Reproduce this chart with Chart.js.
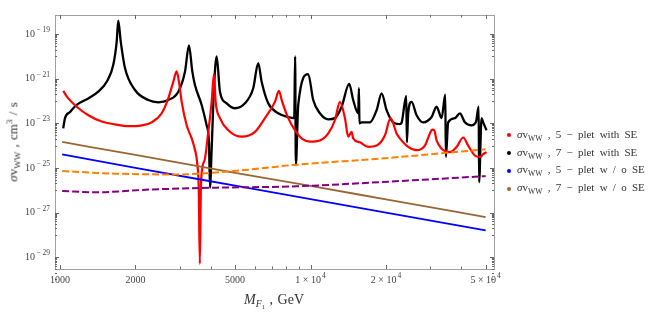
<!DOCTYPE html>
<html>
<head>
<meta charset="utf-8">
<script src="https://cdn.jsdelivr.net/npm/chart.js@4"></script>
<style>
  body { margin: 0; background: #fff; }
  #wrap { position: relative; width: 654px; height: 313px; font-family: "Liberation Serif", "Times New Roman", serif; color: #333; }
  #ytitle { position: absolute; left: 13px; top: 142px; transform: translate(-50%, -50%) rotate(-90deg); white-space: nowrap; font-size: 13px; word-spacing: 1px; }
  #xtitle { position: absolute; left: 274px; top: 300px; transform: translate(-50%, -50%); white-space: nowrap; font-size: 14px; word-spacing: 1px; }
  #legend { position: absolute; left: 507px; top: 126px; font-size: 11px; word-spacing: 2.5px; }
  .item { height: 17.7px; line-height: 17.7px; white-space: nowrap; }
  .dot { display: inline-block; width: 4px; height: 4px; border-radius: 50%; margin-right: 6px; vertical-align: middle; }
  sub { font-size: 70%; vertical-align: -3px; line-height: 0; word-spacing: 0; }
  sub sub { vertical-align: -2px; }
</style>
</head>
<body>
<div id="wrap">
  <canvas id="chart" width="654" height="313"></canvas>
  <div id="ytitle"><i>σ</i>v<sub>WW</sub> , cm<sup style="font-size:70%">3</sup> / s</div>
  <div id="xtitle"><i>M</i><sub><i>F</i><sub>1</sub></sub> , GeV</div>
  <div id="legend"></div>
</div>
<script>
// masses (GeV) and cross sections (cm^3/s)
const redMass = [1030, 1079, 1166, 1297, 1467, 1658, 1873, 2118, 2322, 2546, 2705, 2832, 2922, 2985, 3060, 3203, 3354, 3450, 3530, 3580, 3615, 3650, 3700, 3790, 3907, 4031, 4117, 4182, 4350, 4695, 5311, 6001, 6577, 7210, 7478, 7709, 8147, 8665, 9214, 9945, 10900, 11770, 12520, 13100, 13720, 14140, 14590, 14800, 15740, 16990, 18360, 19820, 20870, 22060, 22730, 24540, 26510, 28610, 29960, 30600, 31170, 31860, 33360, 36010, 38300, 40690, 42590, 45290, 47430, 48880, 50430];
const redSigma = [2.8e-22, 1.3e-22, 5.5e-23, 2.3e-23, 1.2e-23, 8.9e-24, 7.4e-24, 8.1e-24, 1.1e-23, 2.8e-23, 1.3e-22, 7.2e-22, 2.1e-21, 7.2e-22, 9.1e-23, 8.1e-24, 2.1e-24, 7.1e-25, 1.6e-25, 1e-26, 5e-30, 1e-26, 1e-25, 2.6e-25, 4.1e-24, 9.1e-23, 1.6e-21, 9.1e-23, 1.7e-23, 4.9e-24, 2.5e-24, 4.1e-24, 1.7e-23, 9.1e-23, 2.8e-22, 9.1e-23, 1.7e-23, 4.9e-24, 2.1e-24, 1.5e-24, 1.7e-24, 3.5e-24, 1.4e-23, 9.1e-23, 1.7e-23, 2.5e-24, 4.1e-24, 2.1e-24, 1.4e-24, 8.7e-25, 1.0e-24, 2.9e-24, 1.7e-23, 3.5e-24, 2.1e-24, 8.7e-25, 6.2e-25, 1.0e-24, 3.5e-24, 5.2e-24, 4.9e-24, 1.7e-24, 7.2e-25, 5.1e-25, 8.7e-25, 2.3e-24, 1.0e-24, 3.6e-25, 3.1e-25, 4.1e-25, 5.1e-25];

const blackMass = [1030, 1047, 1096, 1166, 1297, 1421, 1536, 1632, 1684, 1708, 1747, 1817, 1992, 2251, 2469, 2705, 2966, 3155, 3272, 3373, 3457, 3677, 3848, 3932, 3969, 4031, 4117, 4220, 4350, 4627, 4993, 5472, 5906, 6184, 6381, 6780, 7431, 8147, 8608, 8680, 8740, 8931, 9790, 10250, 10900, 11770, 12520, 13310, 14270, 14800, 15500, 15600, 15680, 15990, 17260, 18360, 19220, 20120, 21380, 22730, 23090, 24100, 24250, 24540, 25320, 26510, 28180, 30430, 31860, 33360, 34500, 34700, 35440, 37690, 39470, 41320, 43930, 45700, 46900, 47100, 48160, 48880, 50430];
const blackSigma = [5.9e-24, 1.7e-23, 3.2e-23, 6.6e-23, 1.3e-22, 2.6e-22, 7.2e-22, 4.2e-21, 4.7e-20, 4.0e-19, 4.7e-20, 3.0e-21, 3.1e-22, 1.1e-22, 8.7e-23, 1.1e-22, 2.6e-22, 2.1e-21, 3.1e-20, 2.1e-21, 5.2e-22, 6.6e-23, 8.1e-24, 1.4e-24, 1.3e-26, 7.2e-25, 3.7e-22, 9.8e-21, 2.6e-22, 7.8e-23, 4.7e-23, 7.8e-23, 3.7e-22, 4.9e-21, 7.2e-22, 7.8e-23, 2.8e-23, 1.9e-23, 1.7e-23, 9.8e-21, 1.3e-25, 6.6e-23, 1.6e-21, 1.1e-22, 2.8e-23, 1.5e-23, 1.7e-23, 5.5e-23, 5.8e-22, 1.1e-22, 2.8e-23, 3.7e-22, 9.8e-24, 1.1e-23, 1.1e-23, 3.9e-23, 2.2e-22, 3.9e-23, 1.1e-23, 9.1e-24, 1.05e-23, 1.7e-22, 1.4e-24, 2.8e-23, 9.1e-23, 2.3e-23, 1.1e-23, 1.9e-23, 5.5e-23, 1.7e-23, 1.9e-22, 3.1e-25, 1.1e-23, 1.7e-23, 2.8e-23, 1.1e-23, 8.1e-24, 1.1e-23, 5.5e-23, 2.3e-26, 1.7e-23, 1.1e-23, 4.9e-24];

const blueMass = [1020, 2000, 5000, 10000, 20000, 50000];
const blueSigma = [4.0e-25, 1.0e-25, 1.6e-26, 4.0e-27, 1.0e-27, 1.6e-28];

const brownMass = [1020, 2000, 5000, 10000, 20000, 50000];
const brownSigma = [1.45e-24, 3.8e-25, 6.0e-26, 1.55e-26, 3.9e-27, 6.3e-28];

const orangeMass = [1020, 1684, 2922, 4915, 8800, 18920, 50000];
const orangeSigma = [7.2e-26, 5.5e-26, 5.1e-26, 7.2e-26, 1.4e-25, 2.6e-25, 6.8e-25];

const purpleMass = [1020, 1401, 2286, 4217, 8800, 18920, 50000];
const purpleSigma = [9.3e-27, 8.1e-27, 1.07e-26, 1.3e-26, 1.5e-26, 2.3e-26, 4.3e-26];

// tick labels: base text plus superscript part
const xTickValues = [1000, 2000, 5000, 10000, 20000, 50000];
const xTickBase = ['1000', '2000', '5000', '1 × 10', '2 × 10', '5 × 10'];
const xTickExp = ['', '', '', '4', '4', '4'];
const xMinorTicks = [3000, 4000, 6000, 7000, 8000, 9000, 30000, 40000];
const yTickValues = [1e-29, 1e-27, 1e-25, 1e-23, 1e-21, 1e-19];
const yTickExp = ['− 29', '− 27', '− 25', '− 23', '− 21', '− 19'];

const legendItems = [
  { color: '#ff0000', text: '5 − plet with SE' },
  { color: '#000000', text: '7 − plet with SE' },
  { color: '#0000ff', text: '5 − plet w / o SE' },
  { color: '#996633', text: '7 − plet w / o SE' }
];

function pts(xs, ys) {
  return xs.map((x, i) => ({ x: x, y: ys[i] }));
}

// legend
const legendEl = document.getElementById('legend');
legendItems.forEach(function(it) {
  const row = document.createElement('div');
  row.className = 'item';
  row.innerHTML = '<span class="dot" style="background:' + it.color + '"></span><i>σ</i>v<sub>WW</sub> , ' + it.text;
  legendEl.appendChild(row);
});

const serif = '"Liberation Serif", "Times New Roman", serif';

// frame, inward ticks and tick labels with real superscripts
const frameTicks = {
  id: 'frameTicks',
  afterDraw(chart) {
    const { ctx, chartArea: a, scales: { x, y } } = chart;
    ctx.save();
    ctx.strokeStyle = '#a0a0a0';
    ctx.lineWidth = 1;
    ctx.strokeRect(Math.round(a.left) + 0.5, Math.round(a.top) + 0.5, Math.round(a.width), Math.round(a.height));
    ctx.strokeStyle = '#666';
    ctx.beginPath();
    const xt = function(v, len) {
      const p = Math.round(x.getPixelForValue(v)) + 0.5;
      ctx.moveTo(p, a.bottom); ctx.lineTo(p, a.bottom - len);
      ctx.moveTo(p, a.top); ctx.lineTo(p, a.top + len);
    };
    const yt = function(v, len) {
      const p = Math.round(y.getPixelForValue(v)) + 0.5;
      ctx.moveTo(a.left, p); ctx.lineTo(a.left + len, p);
      ctx.moveTo(a.right, p); ctx.lineTo(a.right - len, p);
    };
    xTickValues.forEach(v => xt(v, 4));
    xMinorTicks.forEach(v => xt(v, 2.5));
    yTickValues.forEach(function(v) {
      yt(v, 4);
      for (let k = 1; k <= 9; k++) yt(k * v / 10, 2);
    });
    ctx.stroke();

    ctx.fillStyle = '#444';
    ctx.textBaseline = 'middle';
    const baseFont = '10px ' + serif;
    const expFont = '7.5px ' + serif;
    // x labels
    xTickValues.forEach(function(v, i) {
      const px = x.getPixelForValue(v);
      ctx.font = baseFont;
      const bw = ctx.measureText(xTickBase[i]).width;
      ctx.font = expFont;
      const ew = xTickExp[i] ? ctx.measureText(xTickExp[i]).width + 1 : 0;
      const left = px - (bw + ew) / 2;
      const yy = a.bottom + 11;
      ctx.textAlign = 'left';
      ctx.font = baseFont;
      ctx.fillText(xTickBase[i], left, yy);
      if (xTickExp[i]) {
        ctx.font = expFont;
        ctx.fillText(xTickExp[i], left + bw + 1, yy - 4);
      }
    });
    // y labels
    yTickValues.forEach(function(v, i) {
      const py = y.getPixelForValue(v);
      const right = a.left - 5;
      ctx.font = expFont;
      const ew = ctx.measureText(yTickExp[i]).width;
      ctx.textAlign = 'right';
      ctx.fillText(yTickExp[i], right, py - 4);
      ctx.font = baseFont;
      ctx.fillText('10', right - ew - 1.5, py);
    });
    ctx.restore();
  }
};

const ctx = document.getElementById('chart').getContext('2d');
new Chart(ctx, {
  type: 'line',
  data: {
    datasets: [
      { data: pts(orangeMass, orangeSigma), borderColor: '#ff8000', borderWidth: 2, borderDash: [7, 3] },
      { data: pts(purpleMass, purpleSigma), borderColor: '#800080', borderWidth: 2, borderDash: [7, 3] },
      { data: pts(brownMass, brownSigma), borderColor: '#996633', borderWidth: 1.8 },
      { data: pts(blueMass, blueSigma), borderColor: '#0000ff', borderWidth: 1.8 },
      { data: pts(redMass, redSigma), borderColor: '#ff0000', borderWidth: 2.2 },
      { data: pts(blackMass, blackSigma), borderColor: '#000000', borderWidth: 2.3 }
    ]
  },
  options: {
    responsive: false,
    animation: false,
    devicePixelRatio: 1,
    layout: { padding: { top: 15, right: 160, left: 0, bottom: 0 } },
    elements: {
      point: { radius: 0 },
      line: { cubicInterpolationMode: 'monotone', fill: false }
    },
    plugins: {
      legend: { display: false },
      tooltip: { enabled: false }
    },
    scales: {
      x: {
        type: 'logarithmic',
        min: 955,
        max: 54000,
        afterFit: function(s) { s.height = 44; },
        afterBuildTicks: function(s) { s.ticks = xTickValues.map(v => ({ value: v })); },
        ticks: { display: false },
        grid: { display: false, drawTicks: false },
        border: { display: false }
      },
      y: {
        type: 'logarithmic',
        min: 2.95e-30,
        max: 7.1e-19,
        afterFit: function(s) { s.width = 55; },
        afterBuildTicks: function(s) { s.ticks = yTickValues.map(v => ({ value: v })); },
        ticks: { display: false },
        grid: { display: false, drawTicks: false },
        border: { display: false }
      }
    }
  },
  plugins: [frameTicks]
});
</script>
</body>
</html>
